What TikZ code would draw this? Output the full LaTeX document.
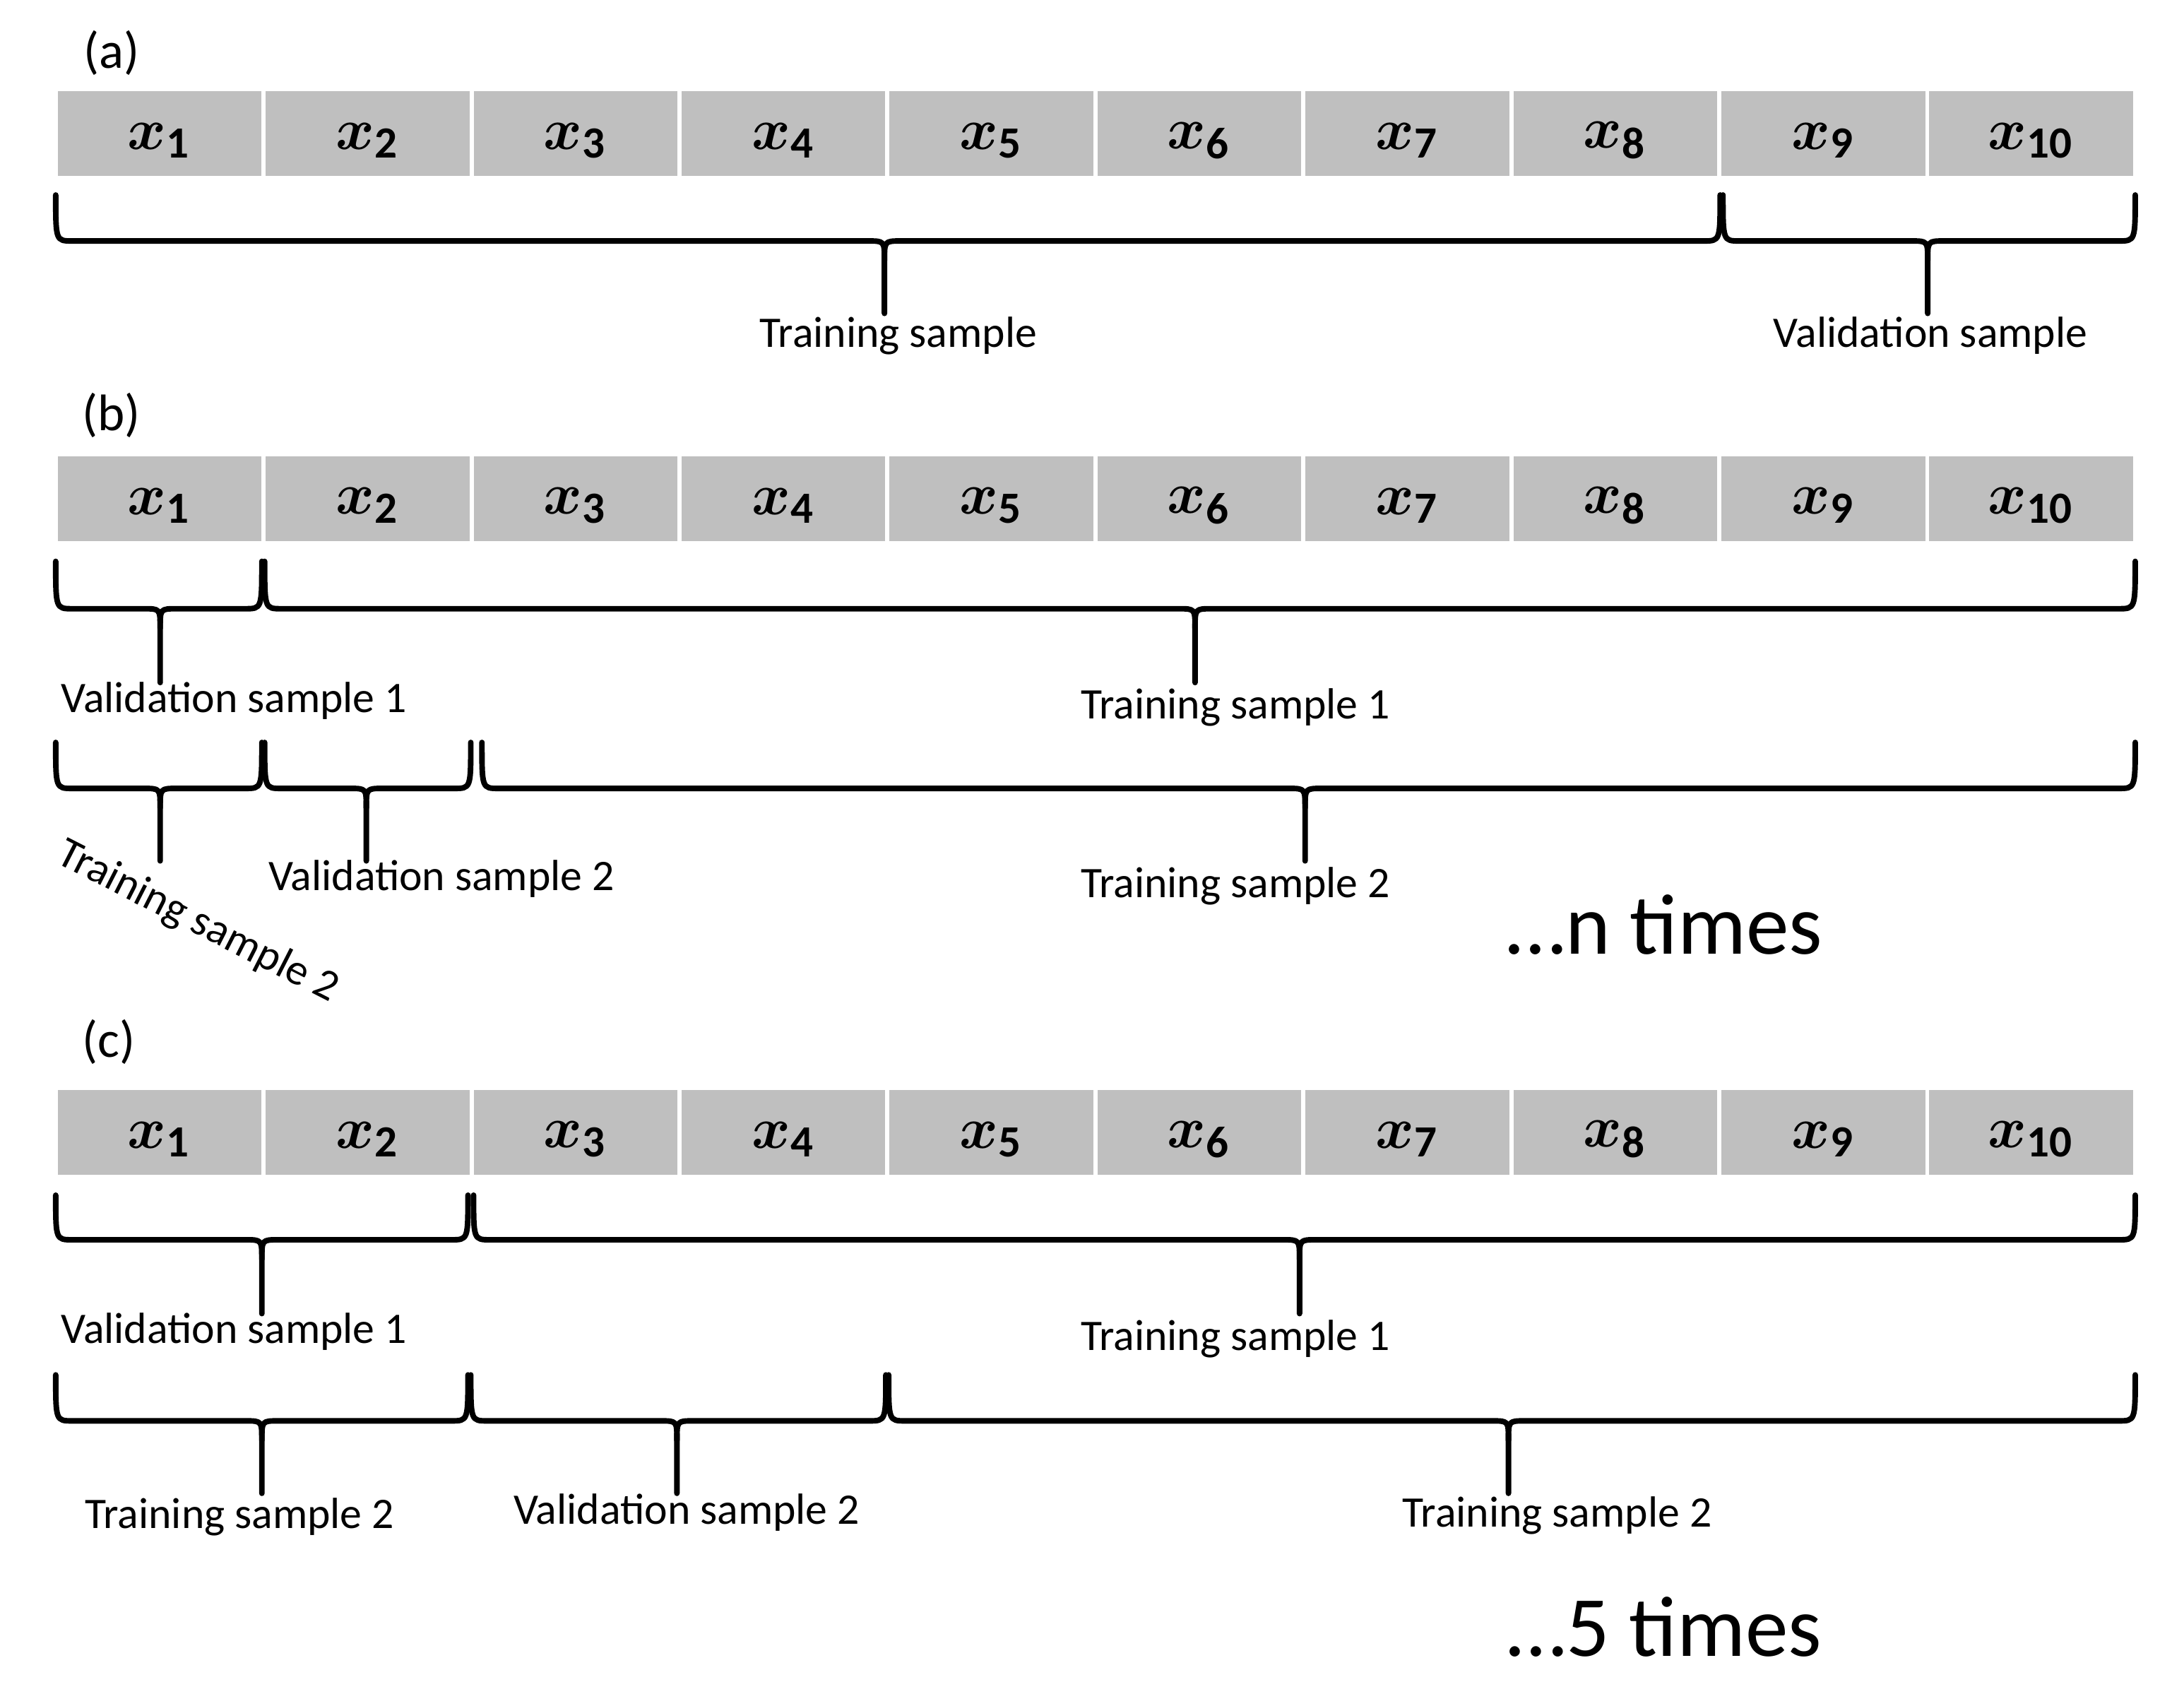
\documentclass[tikz,border=0pt]{standalone}
\usepackage{fontspec}
\setmainfont{Carlito}
\usepackage{amsmath,bm}
\begin{document}
\begin{tikzpicture}[x=0.01cm,y=-0.01cm,
  cell/.style={fill=black!25,draw=white,line width=0.03cm,minimum width=1.493cm,minimum height=0.64cm,inner sep=0},
  cl/.style={font=\fontsize{13}{13}\selectfont,inner sep=0},
  lab/.style={font=\fontsize{8.9}{10}\selectfont,inner sep=0},
  big/.style={font=\fontsize{17.5}{19}\selectfont,inner sep=0},
  br/.style={line width=0.04cm,line cap=round,line join=round}]
\useasboundingbox (0,0) rectangle (1568,1207);
\newcommand{\mybrace}[6]{% x1 x2 xm ytop ymid ytip
  \coordinate (bl) at (#1,#4); \coordinate (bm) at (#3,#6); \coordinate (bre) at (#2,#4);
  \draw[br] (bl) .. controls (#1,#5) .. (#1+12,#5) -- (#3-12,#5) .. controls (#3,#5) .. (#3,#5+14) -- (bm);
  \draw[br] (#3,#5+14) .. controls (#3,#5) .. (#3+12,#5) -- (#2-12,#5) .. controls (#2,#5) .. (bre);}
\newcommand{\myrow}[2]{%
  \foreach \i in {1,...,10} {\node[cell] (#1\i) at ({40+74.65+149.3*(\i-1)},#2) {};
    \node[cl] at ([yshift=-0.05cm]#1\i.center) {$\bm{x}_{\mathbf{\i}}$};}}
\node[lab,font=\fontsize{10.5}{12}\selectfont] (la) at (80,38) {(a)};
\myrow{a}{96}
\mybrace{40}{1235}{635}{140}{173}{225}
\mybrace{1237}{1533}{1384}{140}{173}{225}
\node[lab] (ta) at (645,241) {Training sample};
\node[lab] (va) at (1386,241) {Validation sample};

\node[lab,font=\fontsize{10.5}{12}\selectfont] (lb) at (80,298) {(b)};
\myrow{b}{358}
\mybrace{40}{188}{115}{403}{437}{490}
\mybrace{190}{1533}{858}{403}{437}{490}
\node[lab] (vb1) at (168,503) {Validation sample 1};
\node[lab] (tb1) at (887,508) {Training sample 1};
\mybrace{40}{188}{115}{533}{566}{618}
\mybrace{190}{338}{263}{533}{566}{618}
\mybrace{346}{1533}{937}{533}{566}{618}
\node[lab] (vb2) at (317,631) {Validation sample 2};
\node[lab] (tb2) at (887,636) {Training sample 2};
\node[lab,rotate=-27] (tb2r) at (142,662) {Training sample 2};
\node[big] (nt) at (1195,664) {\ldots n times};

\node[lab,font=\fontsize{10.5}{12}\selectfont] (lc) at (78,748) {(c)};
\myrow{c}{813}
\mybrace{40}{336}{188}{858}{890}{943}
\mybrace{340}{1533}{933}{858}{890}{943}
\node[lab] (vc1) at (168,956) {Validation sample 1};
\node[lab] (tc1) at (887,961) {Training sample 1};
\mybrace{40}{336}{188}{987}{1020}{1072}
\mybrace{338}{636}{486}{987}{1020}{1072}
\mybrace{638}{1533}{1083}{987}{1020}{1072}
\node[lab] (tc2a) at (172,1089) {Training sample 2};
\node[lab] (vc2) at (493,1086) {Validation sample 2};
\node[lab] (tc2b) at (1118,1088) {Training sample 2};
\node[big] (ft) at (1195,1168) {\ldots 5 times};
\end{tikzpicture}
\end{document}
